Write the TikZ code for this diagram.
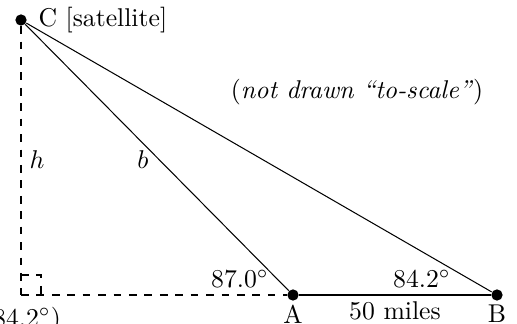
\documentclass[tikz,border=0pt]{standalone}
\begin{document}
\begin{tikzpicture}[x=0.389pt,y=-0.389pt,
  pt/.style={circle,fill=black,inner sep=0pt,minimum size=4.4pt},
  lbl/.style={inner sep=0pt}]
\useasboundingbox (0,0) rectangle (517,324);
\node[pt] (C) at (21,20) {};
\node[pt] (A) at (293,295) {};
\node[pt] (B) at (497,295) {};
\coordinate (F) at (21,295);
\draw (C) -- (A);
\draw (C) -- (B);
\draw (A) -- (B);
\draw[dashed] (C) -- (F);
\draw[dashed] (F) -- (A);
\draw[dashed] (21,275) -- (41,275) -- (41,295);
\node[lbl,anchor=west] (Cl) at (38,20) {C [satellite]};
\node[lbl,anchor=north] (Al) at (A.south) [yshift=-1.2pt] {A};
\node[lbl,anchor=north] (Bl) at (B.south) [yshift=-1.2pt] {B};
\node[lbl,anchor=base] (ml) at (395,319) {50 miles};
\node[lbl] (a1) at (240,279) {87.0$^\circ$};
\node[lbl] (a2) at (422,279) {84.2$^\circ$};
\node[lbl,anchor=base] (a3) at (22,326) {(84.2$^\circ$)};
\node[lbl] (hl) at (37,160) {$h$};
\node[lbl] (bl) at (143,160) {$b$};
\node[lbl] (ns) at (357,92) {(\textit{not drawn ``to-scale''})};
\end{tikzpicture}
\end{document}
